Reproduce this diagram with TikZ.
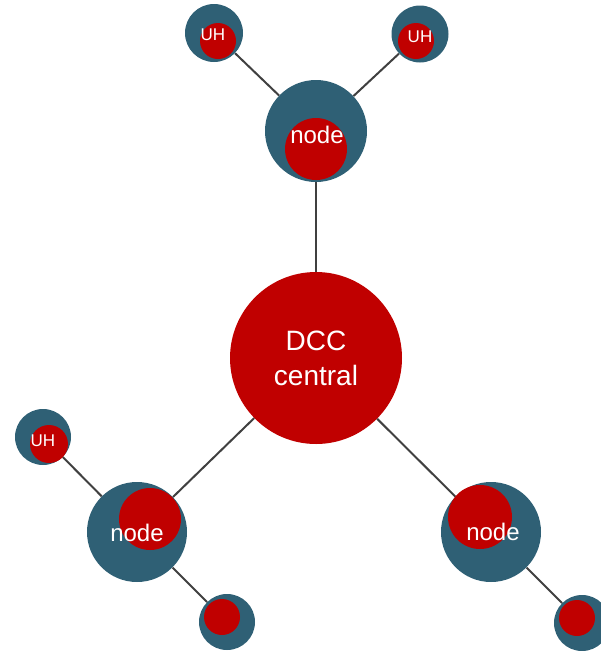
\documentclass[tikz,border=0pt]{standalone}
\usepackage{fontspec}
\setmainfont{Liberation Sans}
\usetikzlibrary{backgrounds}
\definecolor{hubblue}{RGB}{47,96,117}
\definecolor{dccred}{RGB}{192,0,0}
\begin{document}
\begin{tikzpicture}[x=1pt,y=-1pt,
  hub/.style={circle, fill=hubblue, inner sep=0pt, minimum size=#1},
  core/.style={circle, fill=dccred, inner sep=0pt, minimum size=#1},
  link/.style={line width=2pt, draw=black!75},
  lbl/.style={text=white, inner sep=0pt, font=\fontsize{#1}{#1}\selectfont}]
\useasboundingbox (0,0) rectangle (601,651);
% central
\node[core=172] (dcc) at (316,358) {};
% outer circles
\node[hub=102] (top) at (316,131) {};
\node[hub=100] (bl) at (137,532) {};
\node[hub=100] (br) at (491,532) {};
\node[hub=58] (tlUH) at (214,33) {};
\node[hub=57] (trUH) at (420,34) {};
\node[hub=56] (lUH) at (43,437) {};
\node[hub=56] (blUH) at (227,622) {};
\node[hub=56] (brUH) at (582,623) {};
% inner circles
\node[core=62] (topin) at (316,149) {};
\node[core=62] (blin) at (150,519) {};
\node[core=64] (brin) at (480,517) {};
\node[core=36] (tlin) at (218,41) {};
\node[core=36] (trin) at (416,41) {};
\node[core=38] (lin) at (49,444) {};
\node[core=36] (blsin) at (222,617) {};
\node[core=36] (brsin) at (577,618) {};
% links
\begin{scope}[on background layer]
\draw[link] (top) -- (tlUH);
\draw[link] (top) -- (trUH);
\draw[link] (top) -- (dcc);
\draw[link] (dcc) -- (bl);
\draw[link] (dcc) -- (br);
\draw[link] (bl) -- (lUH);
\draw[link] (bl) -- (blUH);
\draw[link] (br) -- (brUH);
\end{scope}
% labels
\node[lbl=28, align=center, font=\fontsize{28}{35}\selectfont] (dcctext) at (316,358) {DCC\\central};
\node[lbl=24] (toptext) at (317,135) {node};
\node[lbl=24] (bltext) at (137,533) {node};
\node[lbl=24] (brtext) at (493,532) {node};
\node[lbl=17] (tltext) at (213,35) {UH};
\node[lbl=17] (trtext) at (420,37) {UH};
\node[lbl=17] (ltext) at (43,441) {UH};
\end{tikzpicture}
\end{document}
